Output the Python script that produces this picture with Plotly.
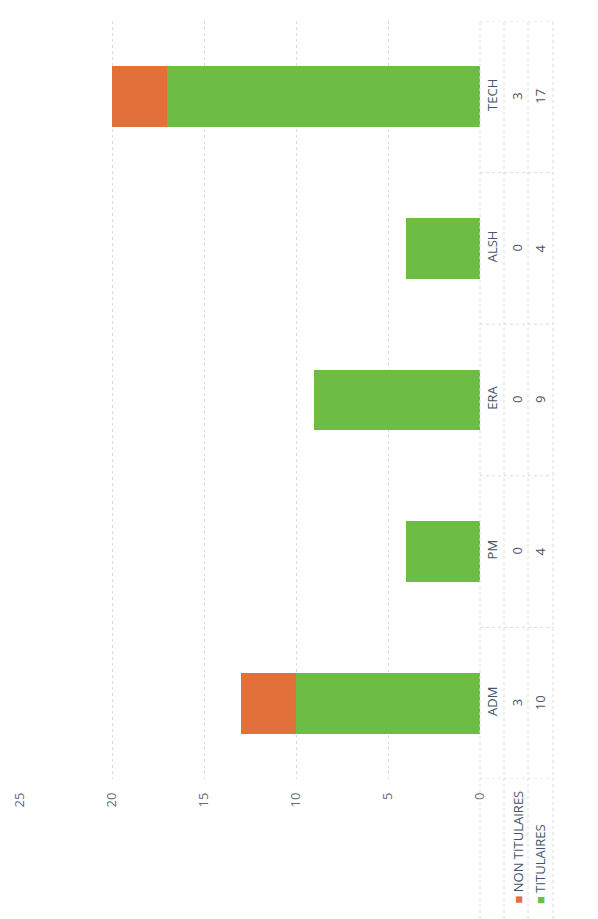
import plotly.graph_objects as go

categories = ["ADM", "PM", "ERA", "ALSH", "TECH"]
titulaires = [10, 4, 9, 4, 17]
non_titulaires = [3, 0, 0, 0, 3]
series_names = ["TITULAIRES", "NON TITULAIRES"]
value_ticks = [0, 5, 10, 15, 20, 25]

GREEN = "#6dbd45"
ORANGE = "#e2703b"
TEXT = "#44546a"
GRID = "#dcdcdc"
FONT = "Open Sans"

OFF = 8  # page body margin
W, H = 598, 919
L, R, T, B = 12, 126, 13, 148
pw = W - L - R
ph = H - T - B

def px2paper_x(px):
    return (px - OFF - L) / pw

def py2paper_y(py):
    return (H - B - (py - OFF)) / ph

fig = go.Figure()
fig.add_trace(go.Bar(y=categories, x=titulaires, name=series_names[0], orientation="h",
                     marker=dict(color=GREEN, line=dict(width=0)), showlegend=False))
fig.add_trace(go.Bar(y=categories, x=non_titulaires, name=series_names[1], orientation="h",
                     marker=dict(color=ORANGE, line=dict(width=0)), showlegend=False))

annotations = []
# data table values
for cat, nt, t in zip(categories, non_titulaires, titulaires):
    annotations.append(dict(x=px2paper_x(517), y=cat, xref="paper", yref="y", text=str(nt),
                            xanchor="center", yanchor="middle",
                            textangle=-90, showarrow=False, font=dict(size=13, color=TEXT, family=FONT)))
    annotations.append(dict(x=px2paper_x(540), y=cat, xref="paper", yref="y", text=str(t),
                            xanchor="center", yanchor="middle",
                            textangle=-90, showarrow=False, font=dict(size=13, color=TEXT, family=FONT)))

# data table row labels with legend keys
annotations.append(dict(x=px2paper_x(517), y=py2paper_y(906), xref="paper", yref="paper",
                        xanchor="center", yanchor="bottom",
                        text=f"<span style='color:{ORANGE}'>■</span> {series_names[1]}",
                        textangle=-90, showarrow=False, font=dict(size=13, color=TEXT, family=FONT)))
annotations.append(dict(x=px2paper_x(540), y=py2paper_y(906), xref="paper", yref="paper",
                        xanchor="center", yanchor="bottom",
                        text=f"<span style='color:{GREEN}'>■</span> {series_names[0]}",
                        textangle=-90, showarrow=False, font=dict(size=13, color=TEXT, family=FONT)))

# legend (rotated, partly cut off at right edge in the reference)
annotations.append(dict(x=px2paper_x(586), y=py2paper_y(455), xref="paper", yref="paper",
                        xanchor="left", yanchor="middle",
                        text=f"<span style='color:{GREEN}'>■</span> {series_names[0]}    "
                             f"<span style='color:{ORANGE}'>■</span> {series_names[1]}",
                        textangle=-90, showarrow=False, font=dict(size=12, color=TEXT, family=FONT)))

shapes = []
line_style = dict(color=GRID, width=1, dash="dot")
# table row borders (vertical in rotated view)
for px in [480, 504, 528, 553]:
    shapes.append(dict(type="line", xref="paper", yref="paper",
                       x0=px2paper_x(px), x1=px2paper_x(px), y0=py2paper_y(925), y1=1,
                       line=line_style))
# table column borders between categories
for i in range(len(categories) + 1):
    shapes.append(dict(type="line", xref="paper", yref="y",
                       x0=1, x1=px2paper_x(553), y0=i - 0.5, y1=i - 0.5, line=line_style))

fig.update_layout(
    width=W, height=H,
    margin=dict(l=L, r=R, t=T, b=B, autoexpand=False),
    barmode="stack", bargap=0.6,
    plot_bgcolor="white", paper_bgcolor="white",
    font=dict(family=FONT, color=TEXT, size=12),
    xaxis=dict(range=[25, 0], tickvals=value_ticks, tickangle=-90,
               showgrid=True, gridcolor=GRID, griddash="dot", gridwidth=1,
               zeroline=False, showline=False, ticks="", ticklabelstandoff=10,
               automargin=False, tickfont=dict(size=13, color="#5c6b80")),
    yaxis=dict(categoryorder="array", categoryarray=categories, side="right",
               tickangle=-90, showgrid=False, zeroline=False, showline=False,
               ticks="", ticklabelstandoff=3, range=[-0.5, 4.5], automargin=False,
               tickfont=dict(size=13, color=TEXT)),
    annotations=annotations,
    shapes=shapes,
)

fig.write_html("out.html")
